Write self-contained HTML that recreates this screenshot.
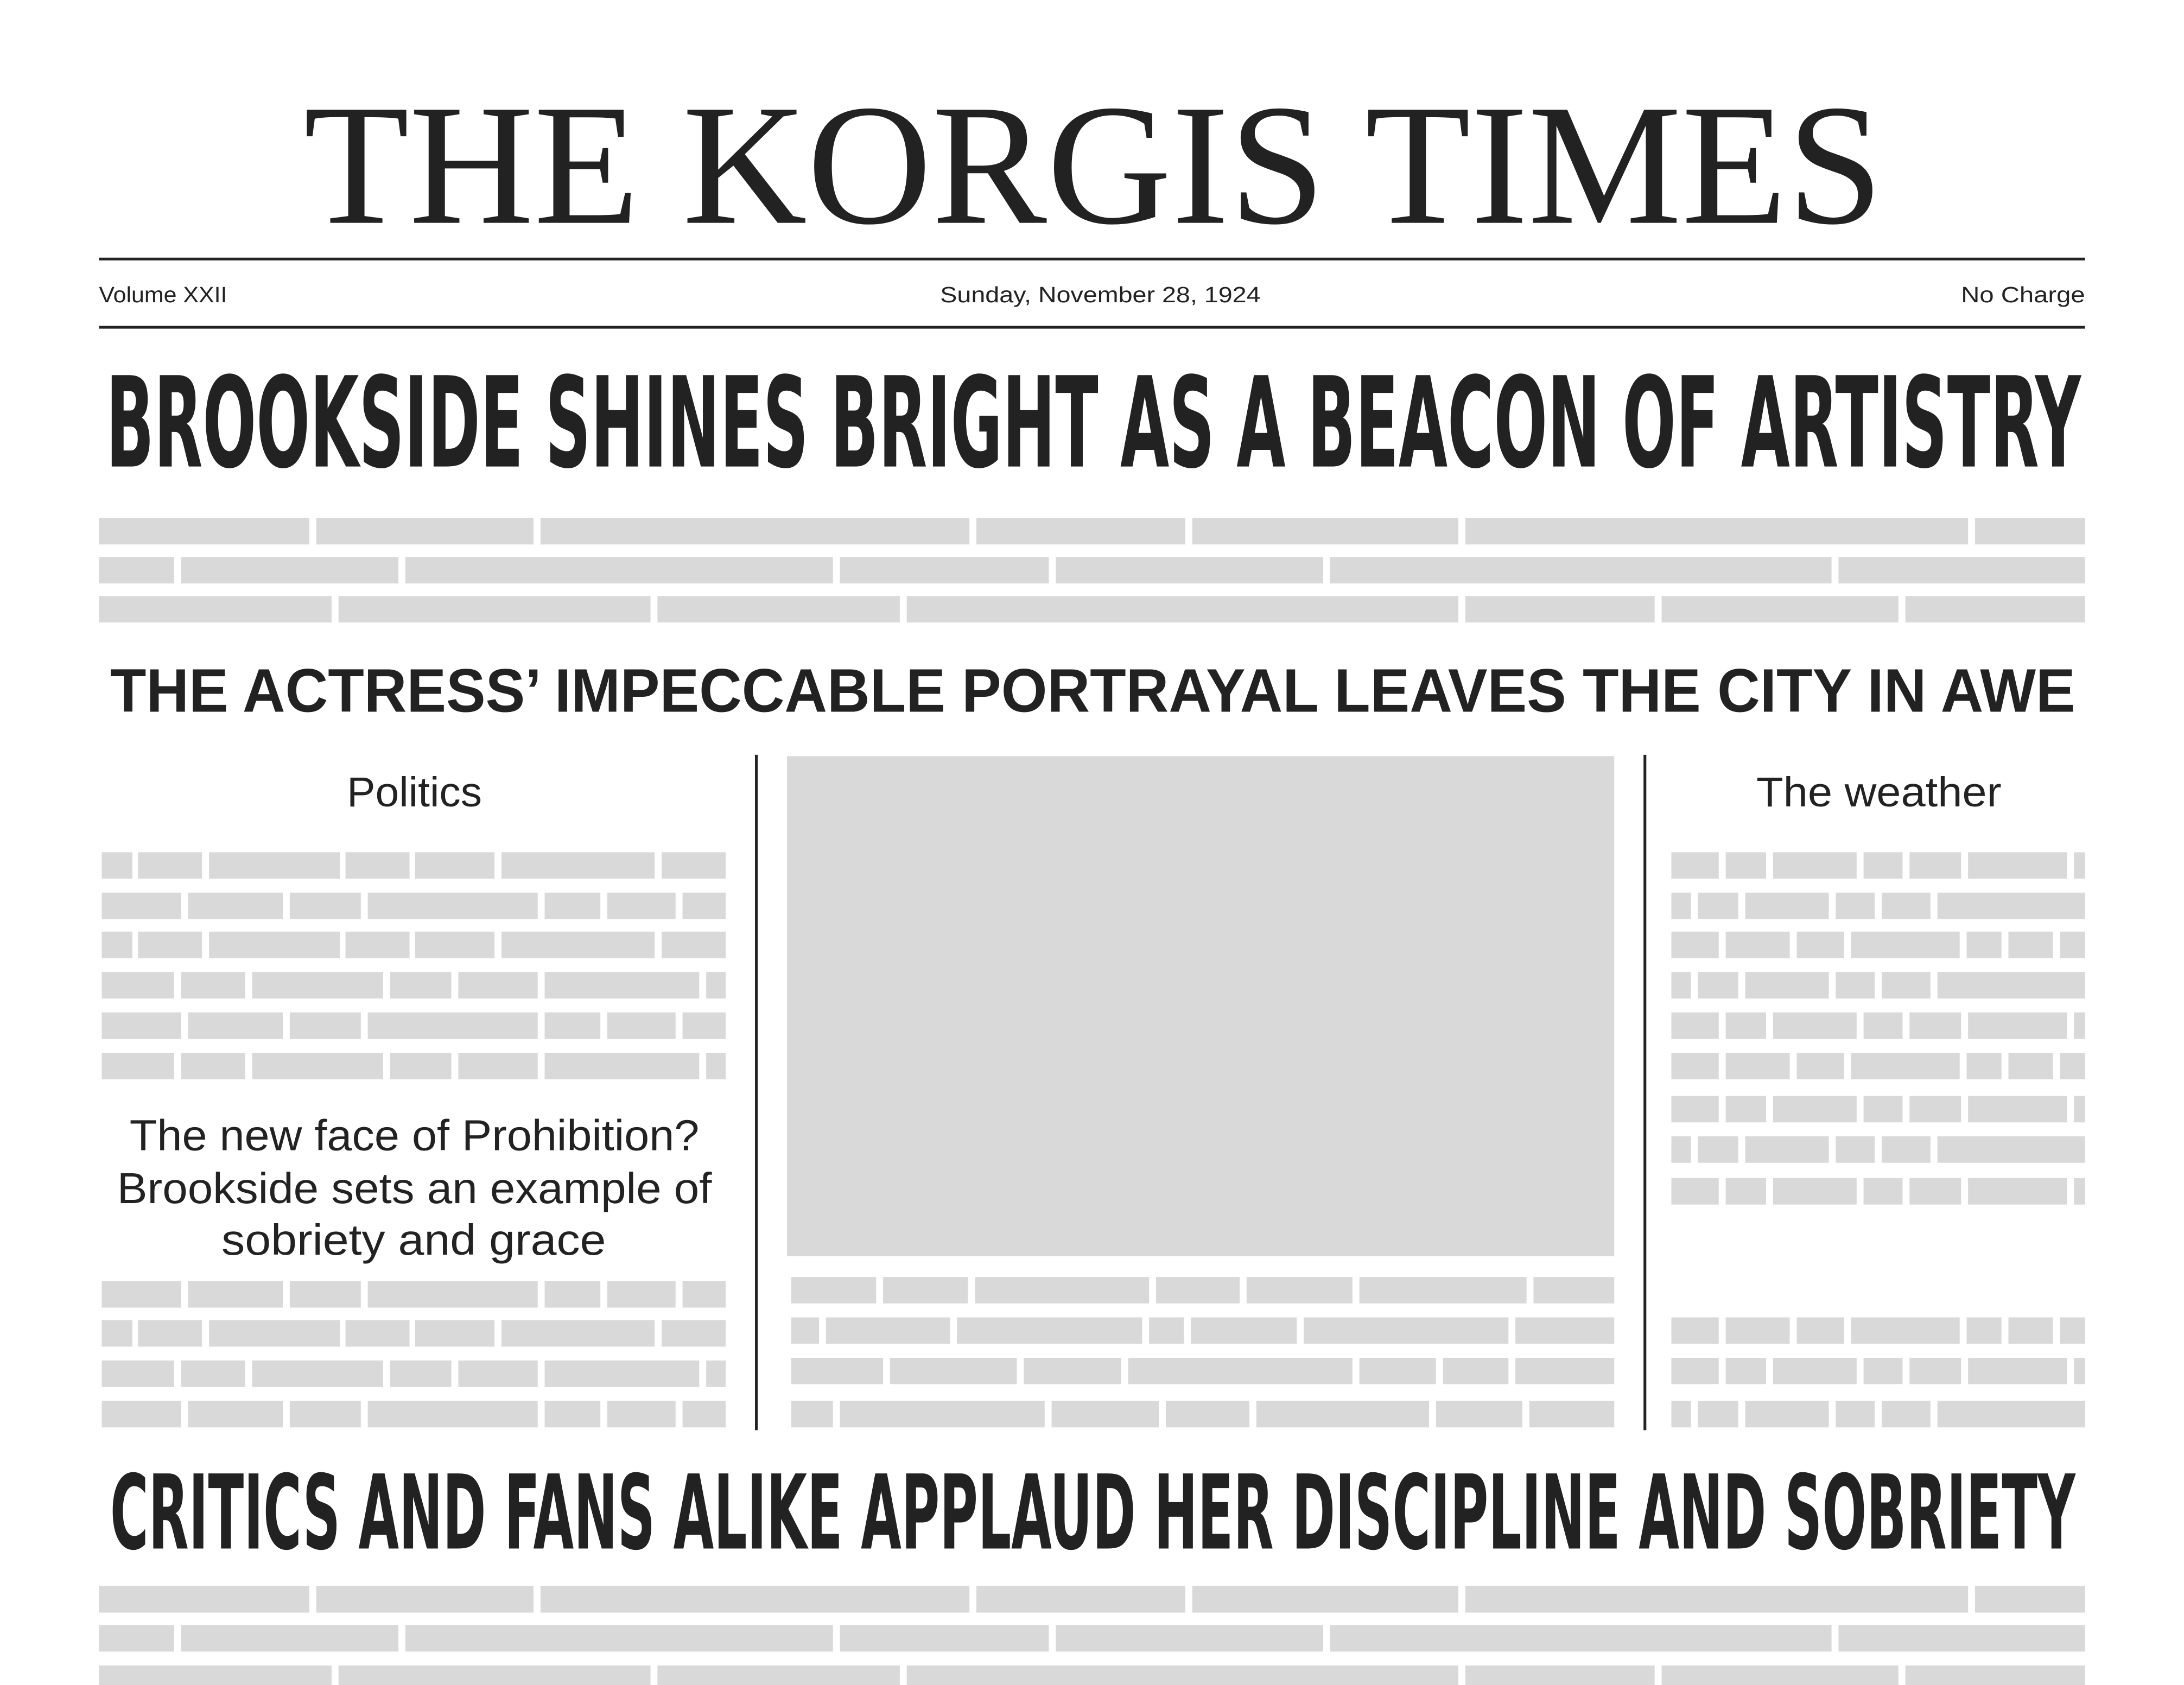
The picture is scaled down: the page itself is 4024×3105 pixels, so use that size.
<!DOCTYPE html>
<html><head><meta charset="utf-8"><style>
html,body{margin:0;padding:0;background:#fff;}
svg{display:block;}
</style></head><body>
<svg id="page" width="4024" height="3105" viewBox="0 0 1568 1210" xmlns="http://www.w3.org/2000/svg">
<rect width="1568" height="1210" fill="#fff"/>
<text x="218" y="160" font-family="Liberation Serif, serif" font-size="124" fill="#222" textLength="1134" lengthAdjust="spacingAndGlyphs">THE KORGIS TIMES</text>
<line x1="71" y1="186" x2="1497" y2="186" stroke="#222" stroke-width="2"/>
<text x="71" y="217" font-family="Liberation Sans, sans-serif" font-size="16" fill="#222" textLength="92" lengthAdjust="spacingAndGlyphs">Volume XXII</text>
<text x="675" y="217" font-family="Liberation Sans, sans-serif" font-size="16" fill="#222" textLength="230" lengthAdjust="spacingAndGlyphs">Sunday, November 28, 1924</text>
<text x="1408" y="217" font-family="Liberation Sans, sans-serif" font-size="16" fill="#222" textLength="89" lengthAdjust="spacingAndGlyphs">No Charge</text>
<line x1="71" y1="235" x2="1497" y2="235" stroke="#222" stroke-width="2"/>
<text x="76" y="335" font-family="Liberation Sans Narrow, DejaVu Sans Condensed, sans-serif" font-weight="bold" font-size="90" fill="#222" textLength="1418" lengthAdjust="spacingAndGlyphs">BROOKSIDE SHINES BRIGHT AS A BEACON OF ARTISTRY</text>
<text x="79" y="511" font-family="Liberation Sans, sans-serif" font-weight="bold" font-size="44" fill="#222" textLength="1411" lengthAdjust="spacingAndGlyphs">THE ACTRESS’ IMPECCABLE PORTRAYAL LEAVES THE CITY IN AWE</text>
<line x1="543" y1="542" x2="543" y2="1027" stroke="#222" stroke-width="2"/>
<line x1="1181" y1="542" x2="1181" y2="1027" stroke="#222" stroke-width="2"/>
<text x="249" y="579" font-family="Liberation Sans, sans-serif" font-size="30" fill="#222" textLength="97" lengthAdjust="spacingAndGlyphs">Politics</text>
<text x="1261" y="579" font-family="Liberation Sans, sans-serif" font-size="30" fill="#222" textLength="176" lengthAdjust="spacingAndGlyphs">The weather</text>
<rect x="565" y="543" width="594" height="359" fill="#d9d9d9"/>
<g font-family="Liberation Sans, sans-serif" font-size="31" fill="#222">
<text x="93" y="826" textLength="409" lengthAdjust="spacingAndGlyphs">The new face of Prohibition?</text>
<text x="84" y="864" textLength="427" lengthAdjust="spacingAndGlyphs">Brookside sets an example of</text>
<text x="159" y="901" textLength="276" lengthAdjust="spacingAndGlyphs">sobriety and grace</text>
</g>
<text x="79" y="1112" font-family="Liberation Sans Narrow, DejaVu Sans Condensed, sans-serif" font-weight="bold" font-size="74" fill="#222" textLength="1411" lengthAdjust="spacingAndGlyphs">CRITICS AND FANS ALIKE APPLAUD HER DISCIPLINE AND SOBRIETY</text>
<g id="bars"></g>
</svg>
<script>
const W1=[[71,222],[227,383],[388,696],[701,851],[856,1047],[1052,1413],[1418,1497]];
const W2=[[71,125],[130,286],[291,598],[603,753],[758,950],[955,1315],[1320,1497]];
const W3=[[71,238],[243,467],[472,646],[651,1047],[1052,1188],[1193,1363],[1368,1497]];
const L1=[[73,95],[99,145],[150,244],[248,294],[298,355],[360,470],[475,521]];
const L2=[[73,130],[135,203],[208,259],[264,386],[391,431],[436,485],[490,521]];
const L4=[[73,125],[130,176],[181,275],[280,324],[329,386],[391,502],[507,521]];
const C1=[[568,629],[634,695],[700,825],[830,890],[895,971],[976,1096],[1101,1159]];
const C2=[[568,588],[593,682],[687,820],[825,850],[855,931],[936,1083],[1088,1159]];
const C3=[[568,634],[639,730],[735,805],[810,971],[976,1031],[1036,1083],[1088,1159]];
const C4=[[568,598],[603,750],[755,832],[837,897],[902,1026],[1031,1093],[1098,1159]];
const RA=[[1200,1234],[1239,1268],[1273,1333],[1338,1366],[1371,1408],[1413,1484],[1489,1497]];
const RB=[[1200,1214],[1219,1248],[1253,1313],[1318,1346],[1351,1386],[1391,1497]];
const RC=[[1200,1234],[1239,1285],[1290,1324],[1329,1407],[1412,1437],[1442,1474],[1479,1497]];
const rows=[
 [372,W1],[400,W2],[428,W3],
 [612,L1],[641,L2],[669,L1],[698,L4],[727,L2],[756,L4],
 [920,L2],[948,L1],[977,L4],[1006,L2],
 [917,C1],[946,C2],[975,C3],[1006,C4],
 [612,RA],[641,RB],[669,RC],[698,RB],[727,RA],[756,RC],[787,RA],[816,RB],[846,RA],
 [946,RC],[975,RA],[1006,RB],
 [1139,W1],[1167,W2],[1196,W3]
];
const g=document.getElementById('bars');
rows.forEach(([y,segs])=>{segs.forEach(([a,b])=>{
 const r=document.createElementNS('http://www.w3.org/2000/svg','rect');
 r.setAttribute('x',a);r.setAttribute('y',y);r.setAttribute('width',b-a);r.setAttribute('height',19);
 r.setAttribute('fill','#d9d9d9');
 
 
 g.appendChild(r);
});});
</script>
</body></html>
